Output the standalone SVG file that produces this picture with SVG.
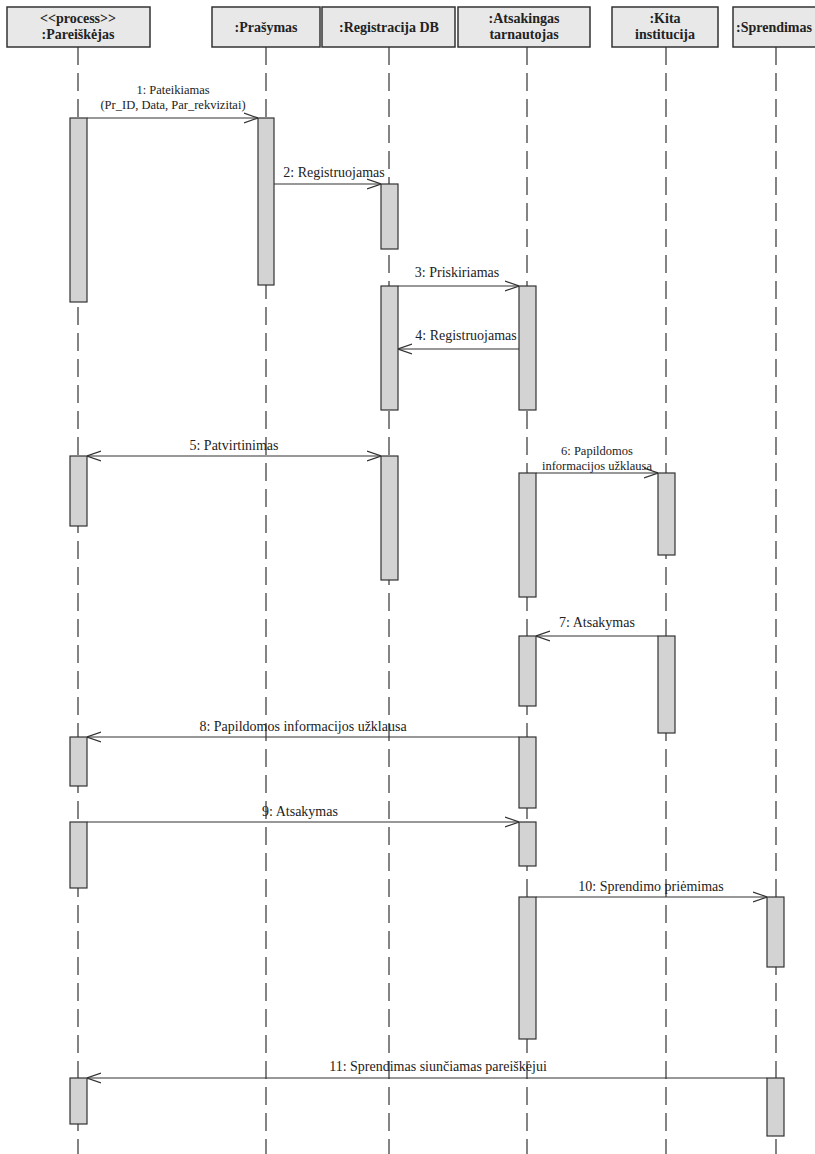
<svg xmlns="http://www.w3.org/2000/svg" width="815" height="1154" viewBox="0 0 815 1154">
<style>
.hdr{fill:#e8e8e8;stroke:#333;stroke-width:1.5}
.ht{font-family:'Liberation Serif','Times New Roman','DejaVu Serif',serif;font-weight:bold;font-size:14px;fill:#222;text-anchor:middle}
.life{stroke:#333;stroke-width:1.2;stroke-dasharray:18 8;fill:none}
.act{fill:#d3d3d3;stroke:#333;stroke-width:1.2}
.msg{stroke:#333;stroke-width:1.2;fill:none;marker-end:url(#arr)}
.lbl{font-family:'Liberation Serif','Times New Roman','DejaVu Serif',serif;font-size:14px;fill:#222;text-anchor:middle}
.sm{font-size:12.5px}
</style>
<defs>
<marker id="arr" viewBox="0 0 14 12" refX="14" refY="6" markerWidth="14" markerHeight="12" orient="auto-start-reverse" markerUnits="userSpaceOnUse">
<path d="M0,1 L14,6 L0,11" fill="none" stroke="#333" stroke-width="1.2"/>
</marker>
</defs>
<rect width="815" height="1154" fill="#fff"/>

<g id="lifelines">
<line class="life" x1="78" y1="47" x2="78" y2="1154"/>
<line class="life" x1="266" y1="47" x2="266" y2="1154"/>
<line class="life" x1="389" y1="47" x2="389" y2="1154"/>
<line class="life" x1="527" y1="47" x2="527" y2="1154"/>
<line class="life" x1="666" y1="47" x2="666" y2="1154"/>
<line class="life" x1="776" y1="47" x2="776" y2="1154"/>
</g>

<g id="node-pareiskejas">
<rect class="hdr" x="7" y="7" width="143" height="40"/>
<text class="ht" x="78" y="23">&lt;&lt;process&gt;&gt;</text>
<text class="ht" x="78" y="39">:Pareiškėjas</text>
<rect class="act" x="70" y="118" width="17" height="184"/>
<rect class="act" x="70" y="456" width="17" height="70"/>
<rect class="act" x="70" y="737" width="17" height="49"/>
<rect class="act" x="70" y="822" width="17" height="66"/>
<rect class="act" x="70" y="1078" width="17" height="46"/>
</g>

<g id="node-prasymas">
<rect class="hdr" x="212" y="7" width="108" height="40"/>
<text class="ht" x="266" y="32">:Prašymas</text>
<rect class="act" x="258" y="118" width="16" height="167"/>
</g>

<g id="node-registracija">
<rect class="hdr" x="322" y="7" width="133" height="40"/>
<text class="ht" x="389" y="32">:Registracija DB</text>
<rect class="act" x="381" y="184" width="17" height="65"/>
<rect class="act" x="381" y="286" width="17" height="124"/>
<rect class="act" x="381" y="456" width="17" height="124"/>
</g>

<g id="node-atsakingas">
<rect class="hdr" x="458" y="7" width="132" height="40"/>
<text class="ht" x="524" y="23">:Atsakingas</text>
<text class="ht" x="524" y="39">tarnautojas</text>
<rect class="act" x="519" y="286" width="17" height="124"/>
<rect class="act" x="519" y="473" width="17" height="124"/>
<rect class="act" x="519" y="636" width="17" height="70"/>
<rect class="act" x="519" y="737" width="17" height="71"/>
<rect class="act" x="519" y="822" width="17" height="44"/>
<rect class="act" x="519" y="897" width="17" height="142"/>
</g>

<g id="node-kita">
<rect class="hdr" x="612" y="7" width="106" height="40"/>
<text class="ht" x="665" y="23">:Kita</text>
<text class="ht" x="665" y="39">institucija</text>
<rect class="act" x="658" y="473" width="17" height="82"/>
<rect class="act" x="658" y="636" width="17" height="97"/>
</g>

<g id="node-sprendimas">
<rect class="hdr" x="733" y="7" width="90" height="40"/>
<text class="ht" x="774" y="32">:Sprendimas</text>
<rect class="act" x="767" y="897" width="17" height="70"/>
<rect class="act" x="767" y="1078" width="17" height="58"/>
</g>

<g id="connectors">
<line class="msg" x1="87" y1="118" x2="258" y2="118"/>
<text class="lbl sm" x="173" y="94">1: Pateikiamas</text>
<text class="lbl sm" x="173" y="109">(Pr_ID, Data, Par_rekvizitai)</text>

<line class="msg" x1="274" y1="184" x2="381" y2="184"/>
<text class="lbl" x="334" y="177">2: Registruojamas</text>

<line class="msg" x1="398" y1="286" x2="519" y2="286"/>
<text class="lbl" x="457" y="277">3: Priskiriamas</text>

<line class="msg" x1="519" y1="349" x2="398" y2="349"/>
<text class="lbl" x="466" y="340">4: Registruojamas</text>

<line class="msg" x1="87" y1="456" x2="381" y2="456" style="marker-start:url(#arr)"/>
<text class="lbl" x="234" y="450">5: Patvirtinimas</text>

<line class="msg" x1="536" y1="473" x2="658" y2="473"/>
<text class="lbl sm" x="597" y="455">6: Papildomos</text>
<text class="lbl sm" x="597" y="470">informacijos užklausa</text>

<line class="msg" x1="658" y1="636" x2="536" y2="636"/>
<text class="lbl" x="597" y="627">7: Atsakymas</text>

<line class="msg" x1="519" y1="737" x2="87" y2="737"/>
<text class="lbl" x="303" y="731">8: Papildomos informacijos užklausa</text>

<line class="msg" x1="87" y1="822" x2="519" y2="822"/>
<text class="lbl" x="300" y="816">9: Atsakymas</text>

<line class="msg" x1="536" y1="897" x2="767" y2="897"/>
<text class="lbl" x="651" y="891">10: Sprendimo priėmimas</text>

<line class="msg" x1="767" y1="1078" x2="87" y2="1078"/>
<text class="lbl" x="438" y="1071">11: Sprendimas siunčiamas pareiškėjui</text>
</g>
</svg>
